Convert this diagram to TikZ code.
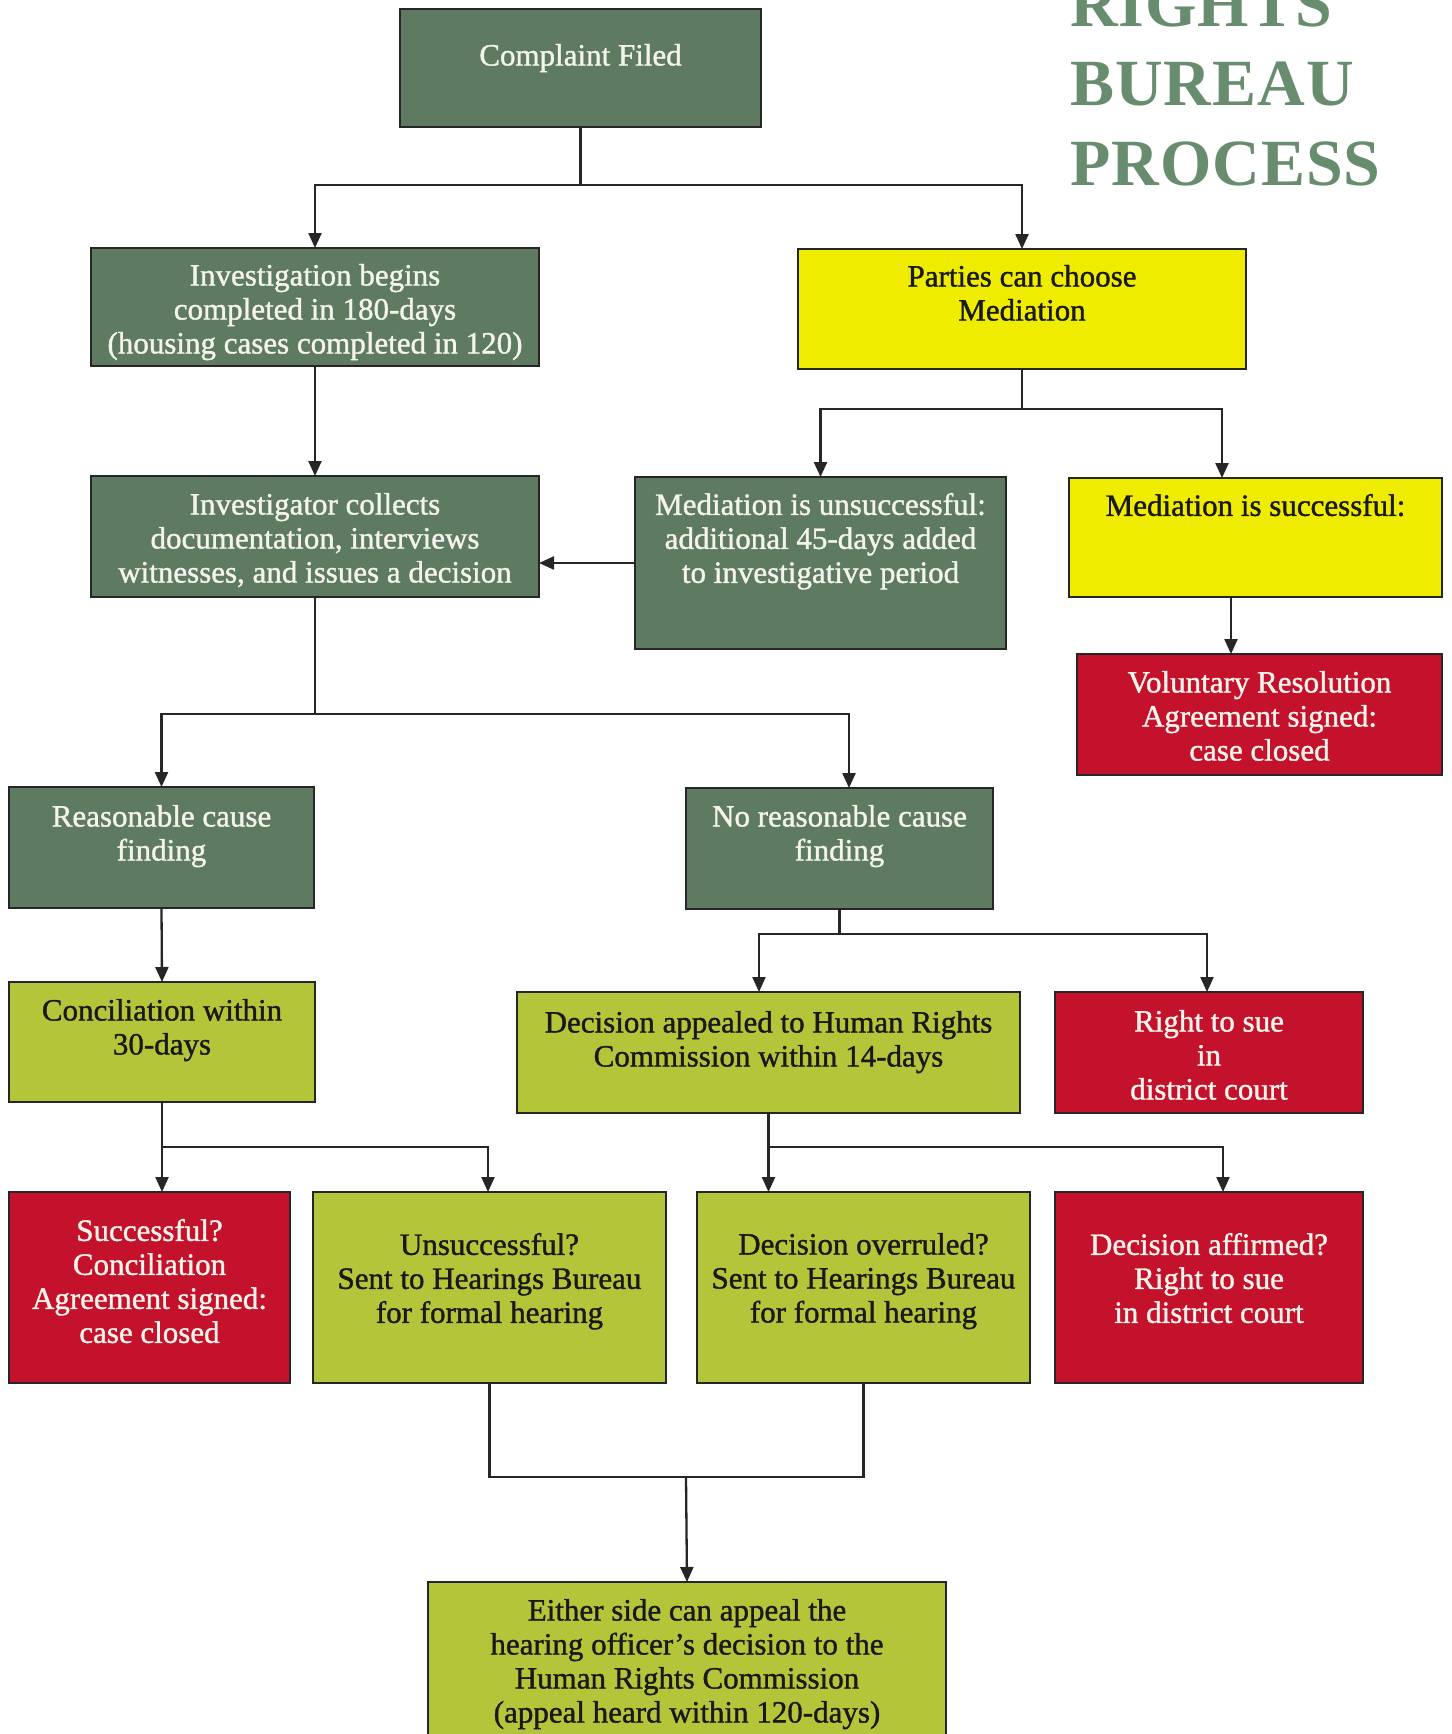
\documentclass[tikz,border=0pt]{standalone}
\usepackage{fontspec}
\setmainfont{Liberation Serif}
\newfontface\boxfont{Liberation Serif}[FakeBold=1.2]
\newfontface\titlefont{Liberation Serif Bold}[LetterSpace=1.5]
\usetikzlibrary{arrows.meta}
\definecolor{dkgreen}{RGB}{94,123,97}
\definecolor{yel}{RGB}{240,236,0}
\definecolor{red1}{RGB}{196,18,44}
\definecolor{ltgreen}{RGB}{181,197,58}
\definecolor{titlegreen}{RGB}{104,140,110}
\definecolor{offwhite}{RGB}{244,244,236}
\begin{document}
\begin{tikzpicture}[x=1pt,y=-1pt,
  box/.style={draw=black!85, line width=2.5pt, inner sep=0pt, outer sep=0pt, anchor=north west},
  txt/.style={anchor=north, align=center, inner sep=0pt, outer sep=0pt, font=\fontsize{31}{34}\boxfont},
  wtxt/.style={txt, text=offwhite},
  btxt/.style={txt, text=black!90},
  line/.style={draw=black!85, line width=2.3pt},
  arr/.style={line, -{Triangle[length=15pt,width=13pt]}},
  ttl/.style={anchor=base west, inner sep=0pt, text=titlegreen, font=\fontsize{66}{70}\titlefont}
]
\useasboundingbox (0,0) rectangle (1451,1734);
\clip (0,0) rectangle (1451,1734);
\fill[white] (0,0) rectangle (1451,1734);

% title
\node[ttl] (t1) at (1070,27) {RIGHTS};
\node[ttl] (t2) at (1070,106) {BUREAU};
\node[ttl] (t3) at (1070,185) {PROCESS};

% boxes
\node[box, fill=dkgreen, minimum width=361pt, minimum height=118pt] (b1) at (400,9) {};
\node[box, fill=dkgreen, minimum width=448pt, minimum height=118pt] (b2) at (91,248) {};
\node[box, fill=yel, minimum width=448pt, minimum height=120pt] (b3) at (798,249) {};
\node[box, fill=dkgreen, minimum width=448pt, minimum height=121pt] (b4) at (91,476) {};
\node[box, fill=dkgreen, minimum width=371pt, minimum height=172pt] (b5) at (635,477) {};
\node[box, fill=yel, minimum width=373pt, minimum height=119pt] (b6) at (1069,478) {};
\node[box, fill=red1, minimum width=365pt, minimum height=121pt] (b7) at (1077,654) {};
\node[box, fill=dkgreen, minimum width=305pt, minimum height=121pt] (b8) at (9,787) {};
\node[box, fill=dkgreen, minimum width=307pt, minimum height=121pt] (b9) at (686,788) {};
\node[box, fill=ltgreen, minimum width=306pt, minimum height=120pt] (b10) at (9,982) {};
\node[box, fill=ltgreen, minimum width=503pt, minimum height=121pt] (b11) at (517,992) {};
\node[box, fill=red1, minimum width=308pt, minimum height=121pt] (b12) at (1055,992) {};
\node[box, fill=red1, minimum width=281pt, minimum height=191pt] (b13) at (9,1192) {};
\node[box, fill=ltgreen, minimum width=353pt, minimum height=191pt] (b14) at (313,1192) {};
\node[box, fill=ltgreen, minimum width=333pt, minimum height=191pt] (b15) at (697,1192) {};
\node[box, fill=red1, minimum width=308pt, minimum height=191pt] (b16) at (1055,1192) {};
\node[box, fill=ltgreen, minimum width=518pt, minimum height=170pt] (b17) at (428,1582) {};

% texts
\node[wtxt] (b1t) at (580.5,44) {Complaint Filed};
\node[wtxt] (b2t) at (315,264) {Investigation begins\\completed in 180-days\\(housing cases completed in 120)};
\node[btxt] (b3t) at (1022,265) {Parties can choose\\Mediation};
\node[wtxt] (b4t) at (315,493) {Investigator collects\\documentation, interviews\\witnesses, and issues a decision};
\node[wtxt] (b5t) at (820.5,493) {Mediation is unsuccessful:\\additional 45-days added\\to investigative period};
\node[btxt] (b6t) at (1255.5,494) {Mediation is successful:};
\node[wtxt] (b7t) at (1259.5,671) {Voluntary Resolution\\Agreement signed:\\case closed};
\node[wtxt] (b8t) at (161.5,805) {Reasonable cause\\finding};
\node[wtxt] (b9t) at (839.5,805) {No reasonable cause\\finding};
\node[btxt] (b10t) at (162,999) {Conciliation within\\30-days};
\node[btxt] (b11t) at (768.5,1011) {Decision appealed to Human Rights\\Commission within 14-days};
\node[wtxt] (b12t) at (1209,1010) {Right to sue\\in\\district court};
\node[wtxt] (b13t) at (149.5,1219) {Successful?\\Conciliation\\Agreement signed:\\case closed};
\node[btxt] (b14t) at (489.5,1233) {Unsuccessful?\\Sent to Hearings Bureau\\for formal hearing};
\node[btxt] (b15t) at (863.5,1233) {Decision overruled?\\Sent to Hearings Bureau\\for formal hearing};
\node[wtxt] (b16t) at (1209,1233) {Decision affirmed?\\Right to sue\\in district court};
\node[btxt] (b17t) at (687,1599) {Either side can appeal the\\hearing officer’s decision to the\\Human Rights Commission\\(appeal heard within 120-days)};

% junction coordinates
\coordinate (jA) at (580.5,185);
\coordinate (jB) at (1022,409);
\coordinate (jBr) at (1222,409);
\coordinate (m1) at (600,563);
\coordinate (c7) at (1231,600);
\coordinate (jC) at (315,714);
\coordinate (jCr) at (849,714);
\coordinate (jD) at (839.5,934);
\coordinate (jDl) at (759,934);
\coordinate (jDr) at (1207,934);
\coordinate (jE) at (162,1147);
\coordinate (jEr) at (488,1147);
\coordinate (jF) at (768.5,1147);
\coordinate (jFr) at (1223,1147);
\coordinate (jG) at (686,1477);

% connectors
\draw[line] (b1.south) -- (jA);
\draw[arr] (jA) -| (b2.north);
\draw[arr] (jA) -| (b3.north);
\draw[arr] (b2.south) -- (b4.north);
\draw[line] (b3.south) -- (jB);
\draw[arr] (jB) -| (b5.north);
\draw[arr] (jB) -- (jBr) -- (jBr |- b6.north);
\draw[arr] (b5.west |- m1) -- (b4.east |- m1);
\draw[arr] (b6.south -| c7) -- (b7.north -| c7);
\draw[line] (b4.south) -- (jC);
\draw[arr] (jC) -| (b8.north);
\draw[arr] (jC) -- (jCr) -- (jCr |- b9.north);
\draw[arr] (b8.south) -- (b10.north);
\draw[line] (b9.south) -- (jD);
\draw[arr] (jD) -- (jDl) -- (jDl |- b11.north);
\draw[arr] (jD) -- (jDr) -- (jDr |- b12.north);
\draw[arr] (b10.south) -- (jE) -- (jE |- b13.north);
\draw[arr] (jE) -- (jEr) -- (jEr |- b14.north);
\draw[arr] (b11.south) -- (jF) -- (jF |- b15.north);
\draw[arr] (jF) -- (jFr) -- (jFr |- b16.north);
\draw[line] (b14.south) |- (jG);
\draw[line] (b15.south) |- (jG);
\draw[arr] (jG) -- (b17.north);
\end{tikzpicture}
\end{document}
